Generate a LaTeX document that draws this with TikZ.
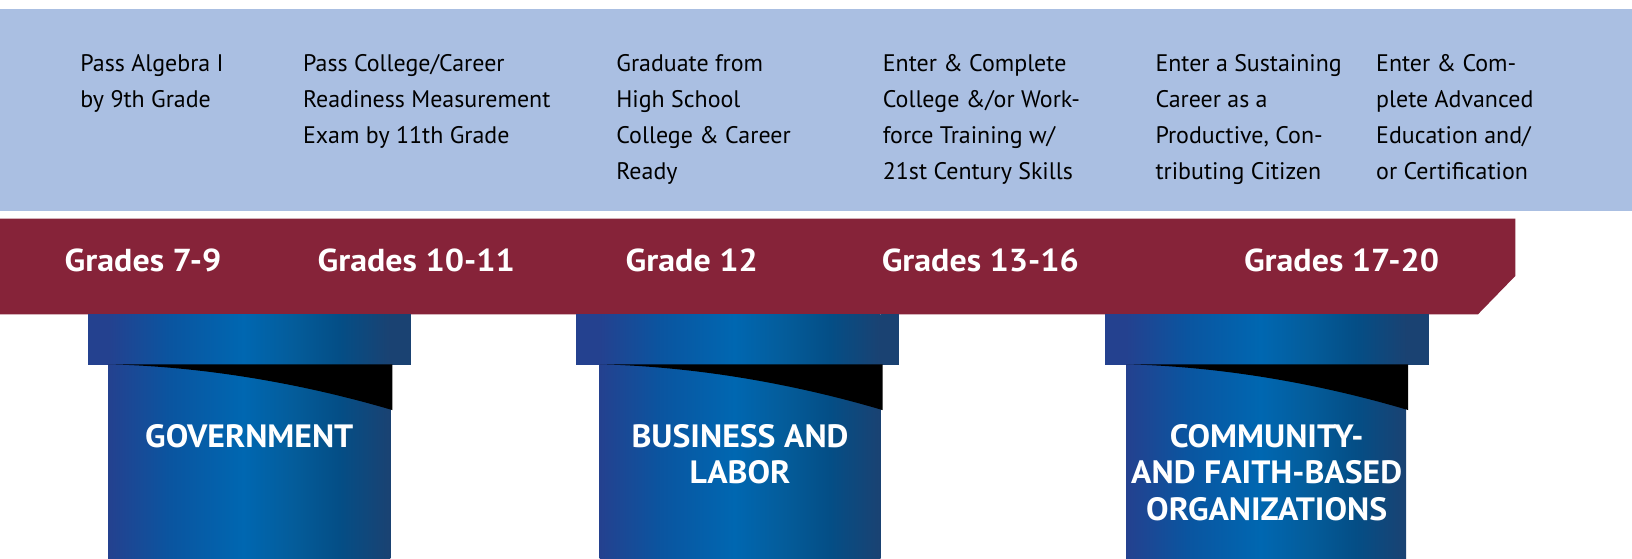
\documentclass[tikz,border=0pt]{standalone}
\usepackage{fontspec}
\setmainfont{PT Sans}
\newfontfamily\condfont{PT Sans}
\newfontfamily\widefont{PT Sans}[FakeStretch=1.07]
\newfontfamily\labelfont{PT Sans}[FakeStretch=1.045]
\definecolor{bandblue}{HTML}{AABFE2}
\definecolor{bandred}{HTML}{862339}
\definecolor{gA}{HTML}{24418F}
\definecolor{gB}{HTML}{0A55A0}
\definecolor{gC}{HTML}{0067B1}
\definecolor{gD}{HTML}{045C9A}
\definecolor{gE}{HTML}{044E86}
\definecolor{gF}{HTML}{1A4272}
\pgfdeclarehorizontalshading{colgrad}{100bp}{color(0bp)=(gA); color(25bp)=(gA); color(36bp)=(gB); color(49bp)=(gC); color(58bp)=(gD); color(66bp)=(gE); color(75bp)=(gF); color(100bp)=(gF)}
\begin{document}
\begin{tikzpicture}[x=1pt,y=-1pt,
  toptext/.style={font=\condfont\fontsize{23}{34.5}\selectfont, align=left, anchor=base west, inner sep=0pt, text=black},
  gradetext/.style={font=\widefont\bfseries\fontsize{30.5}{36}\selectfont, text=white, anchor=base west, inner sep=0pt},
  collabel/.style={font=\labelfont\bfseries\fontsize{31}{35.5}\selectfont, text=white, align=center, anchor=base, inner sep=0pt},
  colshade/.style={shading=colgrad}]
\useasboundingbox (0,0) rectangle (1568,537);
\fill[bandblue] (0,9) rectangle (1568,203);
\fill[bandred] (0,210) -- (1456,210) -- (1456,265) -- (1420,302) -- (0,302) -- cycle;
% pillars
\foreach \n/\cl/\cr/\bl/\br in {gov/85/395/104/375, bus/553/864/576/846, com/1062/1373/1082/1351}{
  \pgfmathsetmacro{\wr}{\br+2}
  \pgfmathsetmacro{\ca}{\bl+0.7*(\wr-\bl)}
  \pgfmathsetmacro{\cb}{\bl+0.35*(\wr-\bl)}
  \fill[gA] (\cl,302) rectangle (\bl,351);
  \fill[gF] (\br,302) rectangle (\cr,351);
  \shade[colshade] (\bl,302) rectangle (\br,351);
  \shade[colshade] (\bl,350) rectangle (\br,537);
  \coordinate (\n-tl) at (\bl,350);
  \coordinate (\n-tr) at (\wr,350);
  \coordinate (\n-wr) at (\wr,394);
  \fill[black] (\n-tl) -- (\n-tr) -- (\n-wr)
     .. controls (\ca,369.8) and (\cb,352.2) .. (\n-tl) -- cycle;
}
% top texts (anchored at the baseline of the last line)
\node[toptext] (t1) at (77,103.5) {Pass Algebra I\\by 9th Grade};
\node[toptext] (t2) at (291,138) {Pass College/Career\\Readiness Measurement\\Exam by 11th Grade};
\node[toptext] (t3) at (592,172.5) {Graduate from\\High School\\College \& Career\\Ready};
\node[toptext] (t4) at (848,172.5) {Enter \& Complete\\College \&/or Work-\\force Training w/\\21st Century Skills};
\node[toptext] (t5) at (1110,172.5) {Enter a Sustaining\\Career as a\\Productive, Con-\\tributing Citizen};
\node[toptext] (t6) at (1322,172.5) {Enter \& Com-\\plete Advanced\\Education and/\\or Certification};
% grade labels
\node[gradetext] (g1) at (62,261) {Grades 7-9};
\node[gradetext] (g2) at (305,261) {Grades 10-11};
\node[gradetext] (g3) at (601,261) {Grade 12};
\node[gradetext] (g4) at (847,261) {Grades 13-16};
\node[gradetext] (g5) at (1195,261) {Grades 17-20};
% pillar labels
\node[collabel] (l1) at (239.5,429.5) {GOVERNMENT};
\node[collabel] (l2) at (711,465) {BUSINESS AND\\LABOR};
\node[collabel] (l3) at (1217,500.5) {COMMUNITY-\\AND FAITH-BASED\\ORGANIZATIONS};
\end{tikzpicture}
\end{document}
